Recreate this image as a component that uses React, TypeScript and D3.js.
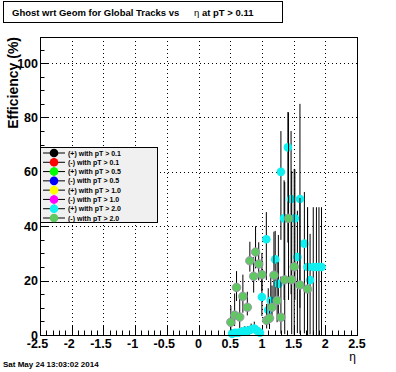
import React from "react";
import * as d3 from "d3";

// (+) with pT > 2.0 (cyan)
const etaPlus = [0.53, 0.58, 0.63, 0.68, 0.73, 0.78, 0.83, 0.88, 0.93, 0.97, 1.0, 1.07, 1.1, 1.14, 1.21, 1.26, 1.3, 1.35, 1.41, 1.46, 1.52, 1.56, 1.6, 1.67, 1.72, 1.76, 1.81, 1.86, 1.9, 1.94];
const effPlus = [0.5, 0.8, 0.8, 1.2, 1.5, 1.5, 2.0, 2.4, 1.5, 0.8, 14.0, 35.2, 9.2, 12.6, 27.8, 18.8, 60.0, 42.9, 69.0, 50.0, 42.9, 28.7, 50.0, 33.6, 25.0, 20.2, 25.0, 25.0, 25.0, 25.0];
const errLoPlus = [0.5, 0.8, 0.8, 1.0, 1.2, 1.2, 1.5, 1.8, 1.2, 0.8, 7, 15, 5, 7, 14, 12, 25, 30, 35, 35, 30, 28, 40, 33, 25, 20, 25, 25, 25, 25];
const errHiPlus = [1.0, 1.2, 1.2, 1.5, 1.8, 1.8, 2.2, 2.5, 1.8, 1.2, 10, 10, 8, 10, 10.5, 18, 15, 14, 13, 25, 18, 17, 35, 19, 22, 17, 22, 22, 22, 22];

// (-) with pT > 2.0 (green)
const etaMinus = [0.51, 0.57, 0.6, 0.65, 0.7, 0.77, 0.81, 0.87, 0.9, 0.95, 1.0, 1.075, 1.12, 1.16, 1.19, 1.24, 1.3, 1.36, 1.42, 1.47, 1.51, 1.6, 1.72];
const effMinus = [4.7, 7.3, 17.5, 6.6, 14.2, 10.2, 27.3, 21.6, 30.5, 26.1, 22.2, 5.4, 6.2, 10.2, 22.0, 12.7, 6.5, 20.3, 42.9, 20.3, 25.1, 18.4, 16.9];
const errLoMinus = [3, 4, 5, 4, 6, 3, 4, 6, 6, 6, 6, 3, 4, 5, 10, 8, 6, 20, 30, 20, 25, 18, 17];
const errHiMinus = [6, 8, 6, 7, 8, 5.7, 7, 7, 9.5, 8, 8, 6, 7, 8, 16, 14, 15, 36, 39, 40, 36, 32, 30];

const legendLabels = [
  "(+) with pT > 0.1",
  "(-) with pT > 0.1",
  "(+) with pT > 0.5",
  "(-) with pT > 0.5",
  "(+) with pT > 1.0",
  "(-) with pT > 1.0",
  "(+) with pT > 2.0",
  "(-) with pT > 2.0",
];
const legendColors = ["#000000", "#ff0000", "#00ff00", "#0000ff", "#ffff00", "#ff00ff", "#10f0f0", "#60c860"];

const W = 396;
const H = 372;
const frame = { left: 40, right: 357, top: 37, bottom: 335 };
const font = "'Liberation Sans', Arial, Helvetica, sans-serif";
const R = 4.3;

const App = () => {
  const x = d3.scaleLinear().domain([-2.5, 2.5]).range([frame.left, frame.right]);
  const y = d3.scaleLinear().domain([0, 109.6]).range([frame.bottom, frame.top]);

  const xMajor = x.ticks(10);
  const xMinor = x.ticks(50);
  const yMajor = d3.range(0, 101, 20);
  const yMinor = d3.range(0, 110, 5);

  const legendY = d3.scalePoint<string>().domain(legendLabels).range([153, 218]);

  const series = [
    { eta: etaPlus, eff: effPlus, lo: errLoPlus, hi: errHiPlus, fill: "#10f0f0", stroke: "none" },
    { eta: etaMinus, eff: effMinus, lo: errLoMinus, hi: errHiMinus, fill: "#60c860", stroke: "#a08cb4" },
  ];

  return (
    <svg
      width={W}
      height={H}
      style={{ position: "absolute", left: 0, top: 0, background: "#ffffff" }}
      fontFamily={font}
    >
      <rect x={0} y={0} width={W} height={H} fill="#ffffff" />

      {/* title box */}
      <rect x={3.5} y={1.5} width={279} height={21} fill="#ffffff" stroke="#000" strokeWidth={1} />
      <text x={12} y={15.5} fontSize={9.5} fontWeight="bold">
        Ghost wrt Geom for Global Tracks vs
      </text>
      <text x={194} y={15.5} fontSize={9.5} fontWeight="bold">
        <tspan fontWeight="normal">η</tspan> at pT &gt; 0.11
      </text>

      {/* grid */}
      <g stroke="#000" strokeWidth={1} strokeDasharray="1 3">
        {xMajor
          .filter((v) => v > -2.5 && v < 2.5)
          .map((v) => (
            <line key={"gx" + v} x1={Math.round(x(v)) + 0.5} x2={Math.round(x(v)) + 0.5} y1={frame.top} y2={frame.bottom} />
          ))}
        {yMajor
          .filter((v) => v > 0)
          .map((v) => (
            <line key={"gy" + v} x1={frame.left} x2={frame.right} y1={Math.round(y(v)) + 0.5} y2={Math.round(y(v)) + 0.5} />
          ))}
      </g>

      {/* ticks */}
      <g stroke="#000" strokeWidth={1}>
        {xMinor.map((v) => {
          const major = xMajor.some((m) => Math.abs(m - v) < 1e-9);
          const px = Math.round(x(v)) + 0.5;
          return <line key={"tx" + v} x1={px} x2={px} y1={frame.bottom} y2={frame.bottom - (major ? 9 : 4.5)} />;
        })}
        {yMinor.map((v) => {
          const major = v % 20 === 0;
          const py = Math.round(y(v)) + 0.5;
          return <line key={"ty" + v} x1={frame.left} x2={frame.left + (major ? 9 : 4.5)} y1={py} y2={py} />;
        })}
      </g>

      {/* tick labels */}
      <g fontSize={12.5} fontWeight="bold" textAnchor="middle">
        {xMajor.map((v) => (
          <text key={"lx" + v} x={x(v) - (v < 0 ? 2.5 : 0)} y={frame.bottom + 13}>
            {String(v)}
          </text>
        ))}
      </g>
      <g fontSize={12.5} fontWeight="bold" textAnchor="end">
        {yMajor.map((v) => (
          <text key={"ly" + v} x={frame.left - 2} y={y(v) + 4.5}>
            {String(v)}
          </text>
        ))}
      </g>

      {/* axis titles */}
      <text
        transform={`translate(18, ${frame.top}) rotate(-90)`}
        fontSize={14}
        fontWeight="bold"
        textAnchor="end"
      >
        Efficiency (%)
      </text>
      <text x={frame.right - 1} y={361} fontSize={12} textAnchor="end">
        η
      </text>

      {/* data */}
      {series.map((s, si) => (
        <g key={"s" + si}>
          <g stroke="#000" strokeWidth={1}>
            {s.eta.map((e, i) => (
              <line
                key={"e" + i}
                x1={x(e)}
                x2={x(e)}
                y1={y(Math.max(0, s.eff[i] - s.lo[i]))}
                y2={y(Math.min(100, s.eff[i] + s.hi[i]))}
              />
            ))}
          </g>
          {s.eta.map((e, i) => (
            <circle key={"m" + i} cx={x(e)} cy={y(s.eff[i])} r={R} fill={s.fill} stroke={s.stroke} strokeWidth={0.8} />
          ))}
        </g>
      ))}

      {/* frame */}
      <rect
        x={frame.left + 0.5}
        y={frame.top + 0.5}
        width={frame.right - frame.left}
        height={frame.bottom - frame.top}
        fill="none"
        stroke="#000"
        strokeWidth={1}
      />

      {/* legend */}
      <rect x={40.5} y={147.5} width={117} height={75} fill="#f0f0f0" stroke="#000" strokeWidth={1} />
      {legendLabels.map((lab, i) => {
        const ly = legendY(lab) as number;
        return (
          <g key={"lg" + i}>
            <line x1={43} x2={65} y1={ly} y2={ly} stroke="#000" strokeWidth={1} />
            <line x1={54} x2={54} y1={ly - 4} y2={ly + 4} stroke="#000" strokeWidth={1} />
            <circle cx={54} cy={ly} r={R} fill={legendColors[i]} />
            <text x={68} y={ly + 2.5} fontSize={7} fontWeight="bold">
              {lab}
            </text>
          </g>
        );
      })}

      {/* date */}
      <text x={3} y={367} fontSize={8} fontWeight="bold">
        Sat May 24 13:03:02 2014
      </text>
    </svg>
  );
};

export default App;
